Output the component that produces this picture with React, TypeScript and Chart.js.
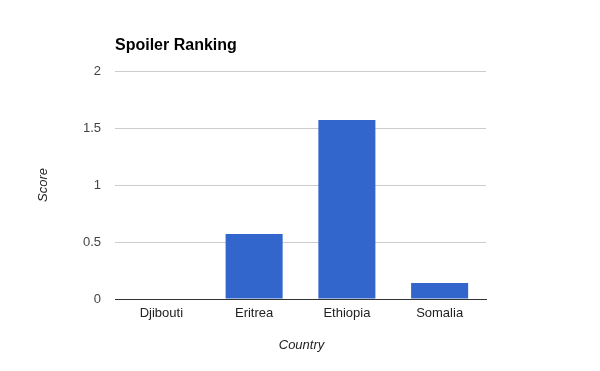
import React, { useEffect, useRef } from "react";
import { Chart, registerables } from "chart.js";

Chart.register(...registerables);

const categories = ["Djibouti", "Eritrea", "Ethiopia", "Somalia"];
const scores = [0, 0.57, 1.57, 0.14];
const chartTitle = "Spoiler Ranking";
const xTitle = "Country";
const yTitle = "Score";

const FONT = "'Liberation Sans', Arial, sans-serif";

const textPlugin = {
  id: "textPlugin",
  afterDraw(chart: any) {
    const ctx = chart.ctx;
    const area = chart.chartArea;
    ctx.save();
    ctx.fillStyle = "#000";
    ctx.font = `bold 16px ${FONT}`;
    ctx.textAlign = "left";
    ctx.textBaseline = "alphabetic";
    ctx.fillText(chartTitle, area.left, 50);

    ctx.fillStyle = "#222";
    ctx.font = `italic 13px ${FONT}`;
    ctx.textAlign = "center";
    ctx.textBaseline = "middle";
    ctx.fillText(xTitle, (area.left + area.right) / 2 + 1, 345);

    ctx.translate(43, (area.top + area.bottom) / 2);
    ctx.rotate(-Math.PI / 2);
    ctx.fillText(yTitle, 0, 0);
    ctx.restore();
  },
};

export default function App() {
  const ref = useRef<HTMLCanvasElement>(null);
  useEffect(() => {
    if (!ref.current) return;
    const chart = new Chart(ref.current, {
      type: "bar",
      data: {
        labels: categories,
        datasets: [
          {
            label: yTitle,
            data: scores,
            backgroundColor: "#3366cc",
            borderWidth: 0,
            barPercentage: 0.615,
            categoryPercentage: 1,
          },
        ],
      },
      options: {
        animation: false,
        responsive: false,
        layout: { padding: { top: 71, right: 114, bottom: 0, left: 0 } },
        plugins: {
          legend: { display: false },
          title: { display: false },
          tooltip: { enabled: false },
        },
        scales: {
          x: {
            grid: { display: false, drawTicks: false },
            border: { display: true, color: "#333", width: 1 },
            ticks: { color: "#222", font: { family: FONT, size: 13 }, padding: 7 },
            afterFit: (s: any) => {
              s.height = 72;
            },
          },
          y: {
            min: 0,
            max: 2,
            grid: { color: "#cccccc", drawTicks: false },
            border: { display: false },
            ticks: {
              stepSize: 0.5,
              color: "#444",
              font: { family: FONT, size: 13 },
              padding: 14,
              callback: (v: any) => String(Number(v)),
            },
            afterFit: (s: any) => {
              s.width = 115;
            },
          },
        },
      },
      plugins: [textPlugin],
    });
    return () => chart.destroy();
  }, []);
  return (
    <div style={{ position: "fixed", left: 0, top: 0, width: 600, height: 371, background: "#fff" }}>
      <canvas ref={ref} width={600} height={371} style={{ display: "block" }} />
    </div>
  );
}
